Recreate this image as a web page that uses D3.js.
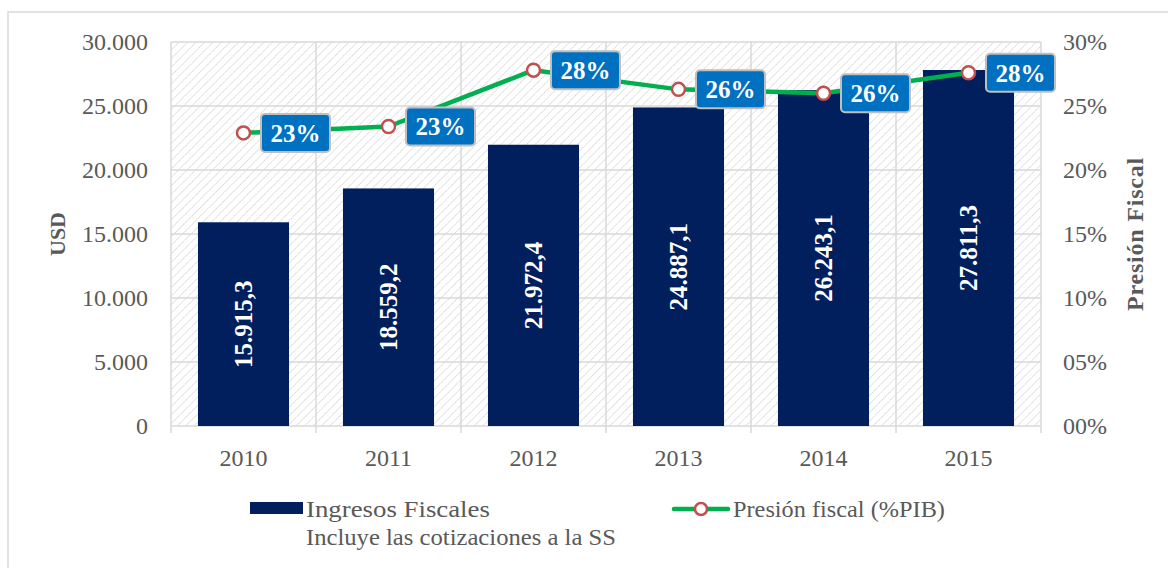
<!DOCTYPE html>
<html>
<head>
<meta charset="utf-8">
<script src="https://cdn.jsdelivr.net/npm/d3@7"></script>
<style>
  body { margin: 0; background: #fff; }
  text { font-family: "Liberation Serif", serif; }
</style>
</head>
<body>
<svg id="chart" width="1168" height="568"></svg>
<script>
// data
var years = ["2010", "2011", "2012", "2013", "2014", "2015"];
var ingresos = [15915.3, 18559.2, 21972.4, 24887.1, 26243.1, 27811.3];
var presion = [0.229, 0.234, 0.278, 0.263, 0.260, 0.276];
var presionLabels = ["23%", "23%", "28%", "26%", "26%", "28%"];
var leftTicks = [0, 5000, 10000, 15000, 20000, 25000, 30000];
var rightTicks = [0, 0.05, 0.10, 0.15, 0.20, 0.25, 0.30];

var gray = "#595959", grid = "#d9d9d9";
var svg = d3.select("#chart");

var plot = {left: 171, right: 1041, top: 42, bottom: 426};

// outer frame (runs off the bottom/right edge)
svg.append("rect")
    .attr("x", 8).attr("y", 12)
    .attr("width", 1200).attr("height", 600)
    .attr("fill", "none").attr("stroke", grid).attr("stroke-width", 1.5);

// hatch pattern for plot area
var defs = svg.append("defs");
var pat = defs.append("pattern")
    .attr("id", "hatch")
    .attr("patternUnits", "userSpaceOnUse")
    .attr("width", 6).attr("height", 6)
    .attr("patternTransform", "rotate(45)");
pat.append("line")
    .attr("x1", 0).attr("y1", 0).attr("x2", 0).attr("y2", 6)
    .attr("stroke", "#d4d4d4").attr("stroke-width", 2)
    .attr("stroke-dasharray", "1.2 0.8");

var xCat = d3.scaleBand().domain(years).range([plot.left, plot.right]).padding(0);
var xBar = d3.scaleBand().domain(years).range([plot.left, plot.right])
    .paddingInner(0.372).paddingOuter(0.186);
var yL = d3.scaleLinear().domain([0, 30000]).range([plot.bottom, plot.top]);
var yR = d3.scaleLinear().domain([0, 0.30]).range([plot.bottom, plot.top]);

svg.append("rect")
    .attr("x", plot.left).attr("y", plot.top)
    .attr("width", plot.right - plot.left).attr("height", plot.bottom - plot.top)
    .attr("fill", "url(#hatch)");

// gridlines
svg.append("g").selectAll("line")
    .data(leftTicks).join("line")
    .attr("x1", plot.left).attr("x2", plot.right)
    .attr("y1", d => yL(d)).attr("y2", d => yL(d))
    .attr("stroke", grid).attr("stroke-width", 1.5);

var bounds = years.map(d => xCat(d)).concat([plot.right]);
svg.append("g").selectAll("line")
    .data(bounds).join("line")
    .attr("x1", d => d).attr("x2", d => d)
    .attr("y1", plot.top).attr("y2", plot.bottom + 7)
    .attr("stroke", grid).attr("stroke-width", 1.5);

// bars
svg.append("g").selectAll("rect")
    .data(ingresos).join("rect")
    .attr("x", (d, i) => xBar(years[i]))
    .attr("width", xBar.bandwidth())
    .attr("y", d => yL(d))
    .attr("height", d => plot.bottom - yL(d))
    .attr("fill", "#001f5c");

var fmtNum = d3.formatLocale({decimal: ",", thousands: ".", grouping: [3], currency: ["", ""]});
var fmtVal = fmtNum.format(",.1f");
var fmtTick = fmtNum.format(",.0f");

svg.append("g").selectAll("text")
    .data(ingresos).join("text")
    .attr("transform", (d, i) => {
        var cx = xBar(years[i]) + xBar.bandwidth() / 2;
        var cy = (yL(d) + plot.bottom) / 2;
        return "translate(" + cx + "," + cy + ") rotate(-90)";
    })
    .attr("text-anchor", "middle").attr("dy", "0.35em")
    .attr("fill", "#fff").attr("font-weight", "bold").attr("font-size", 25)
    .text(d => fmtVal(d));

// line series
var cx = (d, i) => xCat(years[i]) + xCat.bandwidth() / 2;
var line = d3.line().x(cx).y(d => yR(d));
svg.append("path")
    .datum(presion)
    .attr("d", line)
    .attr("fill", "none").attr("stroke", "#00b050").attr("stroke-width", 4.5)
    .attr("stroke-linejoin", "round");

svg.append("g").selectAll("circle")
    .data(presion).join("circle")
    .attr("cx", cx).attr("cy", d => yR(d)).attr("r", 6.5)
    .attr("fill", "#fff").attr("stroke", "#c0504d").attr("stroke-width", 2.5);

// data labels for the line
var lab = svg.append("g").selectAll("g")
    .data(presion).join("g")
    .attr("transform", (d, i) => "translate(" + (cx(d, i) + 52) + "," + yR(d) + ")");
lab.append("rect")
    .attr("x", -34.5).attr("y", -19).attr("width", 69).attr("height", 38)
    .attr("rx", 4)
    .attr("fill", "#0070c0").attr("stroke", "#bfbfbf").attr("stroke-width", 2);
lab.append("text")
    .attr("text-anchor", "middle").attr("dy", "0.36em")
    .attr("fill", "#fff").attr("font-weight", "bold").attr("font-size", 25)
    .text((d, i) => presionLabels[i]);

// axes labels
svg.append("g").selectAll("text")
    .data(leftTicks).join("text")
    .attr("x", 148).attr("y", d => yL(d)).attr("dy", "0.35em")
    .attr("text-anchor", "end").attr("fill", gray).attr("font-size", 24)
    .text(d => fmtTick(d));

svg.append("g").selectAll("text")
    .data(rightTicks).join("text")
    .attr("x", 1063).attr("y", d => yR(d)).attr("dy", "0.35em")
    .attr("text-anchor", "start").attr("fill", gray).attr("font-size", 24)
    .text(d => d3.format("02d")(Math.round(d * 100)) + "%");

svg.append("g").selectAll("text")
    .data(years).join("text")
    .attr("x", d => xCat(d) + xCat.bandwidth() / 2).attr("y", 458).attr("dy", "0.35em")
    .attr("text-anchor", "middle").attr("fill", gray).attr("font-size", 24)
    .text(d => d);

svg.append("text")
    .attr("transform", "translate(57,234) rotate(-90)")
    .attr("text-anchor", "middle").attr("dy", "0.35em")
    .attr("fill", gray).attr("font-weight", "bold").attr("font-size", 22)
    .text("USD");

svg.append("text")
    .attr("transform", "translate(1135,234) rotate(-90)")
    .attr("text-anchor", "middle").attr("dy", "0.35em")
    .attr("fill", gray).attr("font-weight", "bold").attr("font-size", 24)
    .attr("letter-spacing", 0.8)
    .text("Presión Fiscal");

// legend
var leg = svg.append("g");
leg.append("rect")
    .attr("x", 250).attr("y", 502).attr("width", 53).attr("height", 12)
    .attr("fill", "#001f5c");

// legend texts are widened a little to match the wider original font
function legendText(x, y, str, width) {
    var t = leg.append("text")
        .attr("x", 0).attr("y", 0).attr("fill", gray).attr("font-size", 23)
        .text(str);
    var w = t.node().getComputedTextLength();
    t.attr("transform", "translate(" + x + "," + y + ") scale(" + (width / w) + ",1)");
}
legendText(306, 517, "Ingresos Fiscales", 184);
legendText(306, 545, "Incluye las cotizaciones a la SS", 310);

leg.append("line")
    .attr("x1", 674).attr("x2", 728).attr("y1", 509).attr("y2", 509)
    .attr("stroke", "#00b050").attr("stroke-width", 4.5).attr("stroke-linecap", "round");
leg.append("circle")
    .attr("cx", 701).attr("cy", 509).attr("r", 6)
    .attr("fill", "#fff").attr("stroke", "#c0504d").attr("stroke-width", 2.5);
legendText(733, 517, "Presión fiscal (%PIB)", 212);
</script>
</body>
</html>
